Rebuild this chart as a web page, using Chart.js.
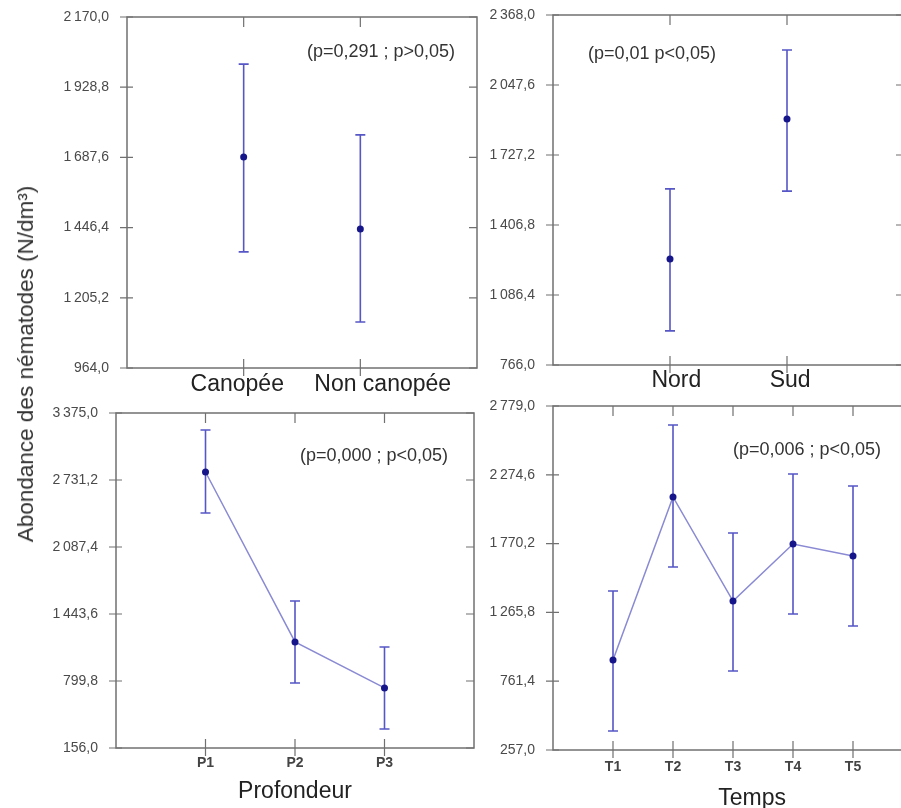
<!DOCTYPE html>
<html>
<head>
<meta charset="utf-8">
<script src="https://cdn.jsdelivr.net/npm/chart.js@4.4.1/dist/chart.umd.min.js"></script>
<style>
  body { margin: 0; background: #fff; }
  #wrap { position: relative; width: 901px; height: 808px; overflow: hidden; }
  #wrap canvas { position: absolute; }
  #ytitle {
    position: absolute; left: 26px; top: 364px;
    transform: translate(-50%, -50%) rotate(-90deg);
    font: 22.5px "Liberation Sans", Arial, sans-serif; color: #333; white-space: nowrap;
  }
</style>
</head>
<body>
<div id="wrap">
  <canvas id="cSite" width="481" height="400" style="left:0;top:0"></canvas>
  <canvas id="cExpo" width="468" height="400" style="left:440px;top:0"></canvas>
  <canvas id="cDepth" width="478" height="413" style="left:0;top:395px"></canvas>
  <canvas id="cTime" width="477" height="420" style="left:440px;top:395px"></canvas>
  <div id="ytitle">Abondance des nématodes (N/dm³)</div>
</div>
<script>
// canopée vs non canopée
const siteLabels = ["Canopée", "Non canopée"];
const siteMean = [1689, 1442];
const siteLow = [1363, 1122];
const siteHigh = [2008, 1765];
const siteTicks = [964.0, 1205.2, 1446.4, 1687.6, 1928.8, 2170.0];

// exposition
const expoLabels = ["Nord", "Sud"];
const expoMean = [1251, 1892];
const expoLow = [922, 1562];
const expoHigh = [1572, 2208];
const expoTicks = [766.0, 1086.4, 1406.8, 1727.2, 2047.6, 2368.0];

// profondeur
const depthLabels = ["P1", "P2", "P3"];
const depthMean = [2808, 1175, 733];
const depthLow = [2414, 781, 339];
const depthHigh = [3212, 1569, 1127];
const depthTicks = [156.0, 799.8, 1443.6, 2087.4, 2731.2, 3375.0];

// temps
const timeLabels = ["T1", "T2", "T3", "T4", "T5"];
const timeMean = [917, 2112, 1349, 1767, 1679];
const timeLow = [396, 1599, 836, 1254, 1166];
const timeHigh = [1423, 2640, 1848, 2280, 2192];
const timeTicks = [257.0, 761.4, 1265.8, 1770.2, 2274.6, 2779.0];

const FONT = '"Liberation Sans", Arial, sans-serif';
const NB = "\u00a0";

function fmt(v) {
  const [i, d] = v.toFixed(1).split(".");
  return i.replace(/\B(?=(\d{3})+(?!\d))/g, "\u2009") + "," + d;
}

// cadre + graduations
const framePlugin = {
  id: "frame",
  beforeDatasetsDraw(chart) {
    const { ctx, chartArea: a, scales: { x, y } } = chart;
    ctx.save();
    ctx.strokeStyle = "#707070";
    ctx.lineWidth = 1.5;
    ctx.strokeRect(a.left, a.top, a.right - a.left, a.bottom - a.top);
    ctx.lineWidth = 1.2;
    ctx.beginPath();
    y.ticks.forEach((t, i) => {
      const py = y.getPixelForTick(i);
      ctx.moveTo(a.left - 7, py); ctx.lineTo(a.left + 6, py);
      ctx.moveTo(a.right - 8, py); ctx.lineTo(a.right, py);
    });
    x.ticks.forEach((t, i) => {
      if (!chart.data.labels[i]) return;
      const px = x.getPixelForTick(i);
      ctx.moveTo(px, a.top); ctx.lineTo(px, a.top + 10);
      ctx.moveTo(px, a.bottom - 9); ctx.lineTo(px, a.bottom + 8);
    });
    ctx.stroke();
    ctx.restore();
  }
};

const errorBarPlugin = {
  id: "errorBars",
  beforeDatasetsDraw(chart) {
    const { ctx, scales: { x, y } } = chart;
    const ds = chart.data.datasets[0];
    ctx.save();
    ctx.strokeStyle = "#5656c6";
    ctx.lineWidth = 1.6;
    ds.data.forEach((v, i) => {
      if (v == null) return;
      const px = x.getPixelForValue(i);
      const lo = y.getPixelForValue(ds.low[i]);
      const hi = y.getPixelForValue(ds.high[i]);
      ctx.beginPath();
      ctx.moveTo(px, lo); ctx.lineTo(px, hi);
      ctx.moveTo(px - 5, lo); ctx.lineTo(px + 5, lo);
      ctx.moveTo(px - 5, hi); ctx.lineTo(px + 5, hi);
      ctx.stroke();
    });
    ctx.restore();
  }
};

const notePlugin = {
  id: "note",
  afterDraw(chart, args, opts) {
    const { ctx, chartArea: a } = chart;
    ctx.save();
    ctx.font = "18px " + FONT;
    ctx.fillStyle = "#333";
    ctx.textAlign = "left";
    ctx.textBaseline = "middle";
    ctx.fillText(opts.text, a.left + opts.dx, a.top + opts.dy);
    ctx.restore();
  }
};

// invisible tick marks: they only reserve the gap between axis and labels
const hiddenGrid = len => ({
  display: true, color: "transparent", drawOnChartArea: false, drawTicks: true, tickLength: len
});

function makeChart(id, cfg) {
  const pad = arr => [null, ...arr, null];
  return new Chart(document.getElementById(id), {
    type: "line",
    data: {
      labels: ["", ...cfg.labels, ""],
      datasets: [{
        data: pad(cfg.mean),
        low: pad(cfg.low),
        high: pad(cfg.high),
        showLine: cfg.line,
        borderColor: "#8a8ad4",
        borderWidth: 1.5,
        pointRadius: 3.5,
        pointBackgroundColor: "#16168a",
        pointBorderWidth: 0
      }]
    },
    options: {
      responsive: false,
      animation: false,
      layout: { padding: { top: cfg.top, right: 2, left: 0, bottom: 0 } },
      plugins: {
        legend: { display: false },
        tooltip: { enabled: false },
        note: cfg.note
      },
      scales: {
        x: {
          offset: false,
          grid: hiddenGrid(cfg.xPad),
          border: { display: false },
          ticks: {
            autoSkip: false, maxRotation: 0, minRotation: 0,
            padding: 0,
            color: cfg.xColor,
            font: cfg.xFont,
            callback: function (v, i) {
              const lab = this.getLabelForValue(v);
              const s = (cfg.shift || [])[i - 1] || 0;
              return s > 0 ? NB.repeat(s) + lab : lab + NB.repeat(-s);
            }
          },
          title: cfg.xTitle
            ? { display: true, text: NB.repeat(cfg.titleShift || 0) + cfg.xTitle, color: "#222", font: { family: FONT, size: 23 }, padding: { top: 0, bottom: 3 } }
            : { display: false },
          afterFit: s => { s.height = cfg.xHeight; }
        },
        y: {
          min: cfg.ticks[0],
          max: cfg.ticks[cfg.ticks.length - 1],
          afterBuildTicks: s => { s.ticks = cfg.ticks.map(v => ({ value: v })); },
          grid: hiddenGrid(16),
          border: { display: false },
          ticks: { callback: v => fmt(v), color: "#4a4a4a", padding: 2, font: { family: FONT, size: 14 } },
          afterFit: s => { s.width = cfg.yWidth; }
        }
      }
    },
    plugins: [framePlugin, errorBarPlugin, notePlugin]
  });
}

const bigLabel = { family: FONT, size: 23 };
const smallLabel = { family: FONT, size: 14, weight: "bold" };

makeChart("cSite", {
  labels: siteLabels, mean: siteMean, low: siteLow, high: siteHigh, ticks: siteTicks,
  line: false, top: 17, yWidth: 127, xHeight: 32, xPad: 3, xColor: "#222", xFont: bigLabel,
  shift: [-2, 7],
  note: { text: "(p=0,291 ; p>0,05)", dx: 180, dy: 35 }
});

makeChart("cExpo", {
  labels: expoLabels, mean: expoMean, low: expoLow, high: expoHigh, ticks: expoTicks,
  line: false, top: 15, yWidth: 113, xHeight: 35, xPad: 2, xColor: "#222", xFont: bigLabel,
  shift: [2, 1],
  note: { text: "(p=0,01 p<0,05)", dx: 35, dy: 39 }
});

makeChart("cDepth", {
  labels: depthLabels, mean: depthMean, low: depthLow, high: depthHigh, ticks: depthTicks,
  line: true, top: 18, yWidth: 116, xHeight: 60, xPad: 7, xColor: "#444", xFont: smallLabel,
  xTitle: "Profondeur",
  note: { text: "(p=0,000 ; p<0,05)", dx: 184, dy: 43 }
});

makeChart("cTime", {
  labels: timeLabels, mean: timeMean, low: timeLow, high: timeHigh, ticks: timeTicks,
  line: true, top: 11, yWidth: 113, xHeight: 65, xPad: 9, xColor: "#444", xFont: smallLabel,
  xTitle: "Temps", titleShift: 6,
  note: { text: "(p=0,006 ; p<0,05)", dx: 180, dy: 44 }
});
</script>
</body>
</html>
